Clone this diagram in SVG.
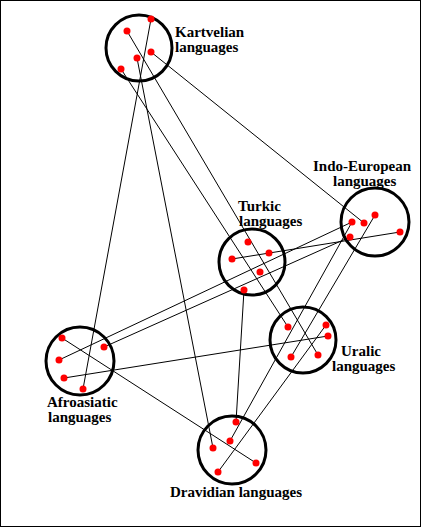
<svg xmlns="http://www.w3.org/2000/svg" width="421" height="527" viewBox="0 0 421 527">
<style>
.ring{fill:none;stroke:#000;stroke-width:3}
.dot{fill:#ff0000}
.lbl{font-family:"Liberation Serif","Times New Roman",serif;font-weight:bold;font-size:15px;fill:#000}
#connectors line{stroke:#000;stroke-width:1}
</style>
<rect x="0.5" y="0.5" width="420" height="526" fill="#fff" stroke="#000" stroke-width="1"/>
<g id="connectors">
<line x1="151" y1="19" x2="83" y2="389"/>
<line x1="137" y1="58" x2="213" y2="448"/>
<line x1="121" y1="69" x2="288" y2="327"/>
<line x1="127" y1="31" x2="318" y2="355"/>
<line x1="151" y1="52" x2="364" y2="223"/>
<line x1="62" y1="338" x2="256" y2="463"/>
<line x1="64" y1="378" x2="328" y2="336"/>
<line x1="244" y1="290" x2="236" y2="422"/>
<line x1="232" y1="259" x2="400" y2="232"/>
<line x1="230" y1="441" x2="352" y2="222"/>
<line x1="218" y1="472" x2="326" y2="325"/>
<line x1="291" y1="357" x2="375" y2="215"/>
<line x1="59" y1="360" x2="352" y2="222"/>
<line x1="104" y1="347" x2="350" y2="237"/>
</g>
<g id="kartvelian">
<circle class="ring" cx="139" cy="48" r="33"/>
<circle class="dot" cx="151" cy="19" r="3.5"/>
<circle class="dot" cx="127" cy="31" r="3.5"/>
<circle class="dot" cx="151" cy="52" r="3.5"/>
<circle class="dot" cx="137" cy="58" r="3.5"/>
<circle class="dot" cx="121" cy="69" r="3.5"/>
<text class="lbl" x="175" y="37">Kartvelian</text>
<text class="lbl" x="175" y="52">languages</text>
</g>
<g id="indo-european">
<circle class="ring" cx="375" cy="222" r="34"/>
<circle class="dot" cx="352" cy="222" r="3.5"/>
<circle class="dot" cx="364" cy="223" r="3.5"/>
<circle class="dot" cx="375" cy="215" r="3.5"/>
<circle class="dot" cx="400" cy="232" r="3.5"/>
<circle class="dot" cx="350" cy="237" r="3.5"/>
<text class="lbl" x="313" y="171">Indo-European</text>
<text class="lbl" x="333" y="186">languages</text>
</g>
<g id="turkic">
<circle class="ring" cx="252" cy="262" r="33"/>
<circle class="dot" cx="248" cy="242" r="3.5"/>
<circle class="dot" cx="269" cy="253" r="3.5"/>
<circle class="dot" cx="232" cy="259" r="3.5"/>
<circle class="dot" cx="260" cy="272" r="3.5"/>
<circle class="dot" cx="244" cy="290" r="3.5"/>
<text class="lbl" x="238" y="211">Turkic</text>
<text class="lbl" x="239" y="226">languages</text>
</g>
<g id="uralic">
<circle class="ring" cx="303" cy="340" r="33"/>
<circle class="dot" cx="288" cy="327" r="3.5"/>
<circle class="dot" cx="326" cy="325" r="3.5"/>
<circle class="dot" cx="328" cy="336" r="3.5"/>
<circle class="dot" cx="291" cy="357" r="3.5"/>
<circle class="dot" cx="318" cy="355" r="3.5"/>
<text class="lbl" x="341" y="356">Uralic</text>
<text class="lbl" x="332" y="371">languages</text>
</g>
<g id="afroasiatic">
<circle class="ring" cx="80" cy="361" r="34"/>
<circle class="dot" cx="62" cy="338" r="3.5"/>
<circle class="dot" cx="104" cy="347" r="3.5"/>
<circle class="dot" cx="59" cy="360" r="3.5"/>
<circle class="dot" cx="64" cy="378" r="3.5"/>
<circle class="dot" cx="83" cy="389" r="3.5"/>
<text class="lbl" x="47" y="407">Afroasiatic</text>
<text class="lbl" x="48" y="422">languages</text>
</g>
<g id="dravidian">
<circle class="ring" cx="232" cy="450" r="34"/>
<circle class="dot" cx="236" cy="422" r="3.5"/>
<circle class="dot" cx="230" cy="441" r="3.5"/>
<circle class="dot" cx="213" cy="448" r="3.5"/>
<circle class="dot" cx="256" cy="463" r="3.5"/>
<circle class="dot" cx="218" cy="472" r="3.5"/>
<text class="lbl" x="236" y="497" text-anchor="middle">Dravidian languages</text>
</g>
</svg>
